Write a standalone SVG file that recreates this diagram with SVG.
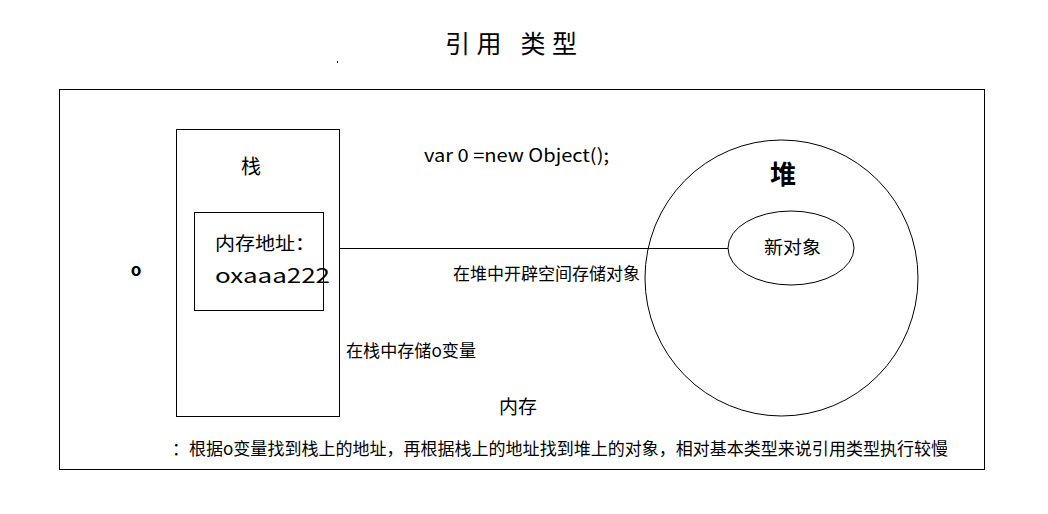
<svg xmlns="http://www.w3.org/2000/svg" width="1048" height="514" viewBox="0 0 1048 514">
<style>
.s{fill:none;stroke:#000;stroke-width:1}
.t{font-family:"Microsoft YaHei","Noto Sans CJK SC","Liberation Sans",sans-serif;fill:#000}
</style>
<rect width="1048" height="514" fill="#fff"/>
<text class="t" x="445" y="53" font-size="25" textLength="132" lengthAdjust="spacing">引用 类型</text>
<rect x="337" y="61" width="1" height="2" fill="#000"/>
<g id="memory">
<rect class="s" x="59.5" y="89.5" width="925" height="380"/>
<text class="t" x="499" y="414" font-size="19" textLength="38" lengthAdjust="spacingAndGlyphs">内存</text>
</g>
<text class="t" x="136" y="276" font-size="17" text-anchor="middle" font-weight="bold">o</text>
<g id="stack">
<rect class="s" x="176.5" y="129.5" width="163" height="287"/>
<text class="t" x="241" y="174" font-size="20">栈</text>
</g>
<g id="address">
<rect class="s" x="194.5" y="212.5" width="129" height="98"/>
<text class="t" x="215" y="250" font-size="18" textLength="100" lengthAdjust="spacingAndGlyphs">内存地址：</text>
<text class="t" x="215" y="283" font-size="20" textLength="115" lengthAdjust="spacingAndGlyphs">oxaaa222</text>
</g>
<g id="heap">
<ellipse class="s" cx="781.5" cy="278" rx="136.5" ry="138"/>
<text class="t" x="770" y="184" font-size="26" font-weight="bold">堆</text>
</g>
<g id="newobj">
<ellipse class="s" cx="791" cy="248" rx="63" ry="37"/>
<text class="t" x="764" y="254" font-size="18" textLength="57" lengthAdjust="spacingAndGlyphs">新对象</text>
</g>
<g id="connectors">
<line class="s" x1="339" y1="248.5" x2="728" y2="248.5"/>
</g>
<text class="t" x="424" y="162" font-size="18" textLength="185" lengthAdjust="spacingAndGlyphs">var 0 =new Object();</text>
<text class="t" x="453" y="280" font-size="17" textLength="187" lengthAdjust="spacingAndGlyphs">在堆中开辟空间存储对象</text>
<text class="t" x="346" y="357" font-size="17" textLength="130" lengthAdjust="spacingAndGlyphs">在栈中存储o变量</text>
<text class="t" x="172" y="455" font-size="17" textLength="776" lengthAdjust="spacingAndGlyphs">：根据o变量找到栈上的地址，再根据栈上的地址找到堆上的对象，相对基本类型来说引用类型执行较慢</text>
</svg>
